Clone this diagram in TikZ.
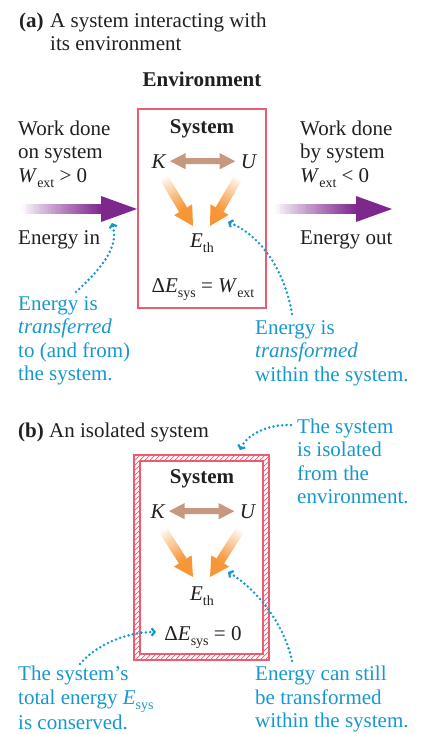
\documentclass[tikz,border=0pt]{standalone}
\usepackage{fontspec}
\setmainfont{Liberation Serif}
\usetikzlibrary{calc,arrows.meta}
\definecolor{boxred}{RGB}{235,92,112}
\definecolor{annblue}{RGB}{22,152,207}
\definecolor{arrpurple}{RGB}{126,40,142}
\definecolor{arrorange}{RGB}{247,150,55}
\definecolor{arrbrown}{RGB}{198,152,128}
\definecolor{txt}{RGB}{35,31,32}
\newcommand\sbs[1]{\raisebox{-5pt}{\fontsize{14}{14}\selectfont #1}}
\newcommand\gradarrow[6]{%
  \coordinate (ga-h) at ($(#2)!#6!(#1)$);
  \foreach \i in {0,...,29}{%
    \pgfmathsetmacro\pa{\i/30}%
    \pgfmathsetmacro\pb{min((\i+1.5)/30,1)}%
    \pgfmathtruncatemacro\pc{100*((\i+0.5)/30)^0.85}%
    \draw[line width=#4, draw=#3!\pc!white] ($(#1)!\pa!(ga-h)$) -- ($(#1)!\pb!(ga-h)$);
  }
  \fill[#3] (#2) -- ($(ga-h)!#5!90:(#2)$) -- ($(ga-h)!#5!-90:(#2)$) -- cycle;
}
\begin{document}
\begin{tikzpicture}[x=1pt,y=-1pt,
  every node/.style={inner sep=0pt, text=txt, font=\fontsize{21}{23.5}\selectfont},
  ml/.style={align=left, anchor=north west},
  blue/.style={text=annblue},
  dots/.style={draw=annblue, line width=2.8pt, dash pattern=on 0pt off 4.4pt, line cap=round,
    -{Straight Barb[length=3pt,width=7.5pt,line width=2.2pt]}},
  brownarr/.style={draw=arrbrown, line width=6pt,
    {Triangle[length=16pt,width=15pt]}-{Triangle[length=16pt,width=15pt]}},
  sysbox/.style={draw=boxred, line width=2.5pt},
  wall/.style={draw=boxred, line width=1.2pt}]
\useasboundingbox (0,0) rectangle (423,734);

% ---------------- (a) ----------------
\node[anchor=base west] (alab) at (19,27) {\textbf{(a)}};
\node[ml] (atitle) at (50,10.55) {\strut A system interacting with\\\strut its environment};
\node[anchor=base] (env) at (202,86) {\textbf{Environment}};

\node[sysbox, minimum width=128pt, minimum height=199pt] (boxa) at (202,208.5) {};
\node[anchor=base] (sysa) at (202,133) {\textbf{System}};
\node[anchor=base] (Ka) at (159,168) {\textit{K}};
\node[anchor=base] (Ua) at (249,168) {\textit{U}};
\draw[brownarr] ([xshift=3pt]Ka.east) -- ([xshift=-5pt]Ua.west);
\node[anchor=base] (Ea) at (202,247) {\textit{E}\sbs{th}};
\node[anchor=base] (dEa) at (203,292) {Δ\textit{E}\sbs{sys} = \textit{W}\sbs{ext}};

\coordinate (oa1s) at (164,178); \coordinate (oa1e) at (193,226);
\coordinate (oa2s) at (238,178); \coordinate (oa2e) at (210,226);
\gradarrow{oa1s}{oa1e}{arrorange}{9pt}{10.5pt}{19pt}
\gradarrow{oa2s}{oa2e}{arrorange}{9pt}{10.5pt}{19pt}

\coordinate (pls) at (22,209); \coordinate (ple) at (137,209);
\coordinate (prs) at (275,209); \coordinate (pre) at (392,209);
\gradarrow{pls}{ple}{arrpurple}{10pt}{13pt}{36pt}
\gradarrow{prs}{pre}{arrpurple}{10pt}{13pt}{36pt}

\node[ml] (wl) at (18,118.55) {\strut Work done\\\strut on system\\\strut\textit{W}\sbs{ext} > 0};
\node[ml] (wr) at (300,118.55) {\strut Work done\\\strut by system\\\strut\textit{W}\sbs{ext} < 0};
\node[anchor=base west] (ein) at (18,244) {Energy in};
\node[anchor=base west] (eout) at (300,244) {Energy out};

\node[ml, blue] (trf) at (18,293.55) {\strut Energy is\\\strut\textit{transferred}\\\strut to (and from)\\\strut the system.};
\node[ml, blue] (trm) at (255,317.55) {\strut Energy is\\\strut\textit{transformed}\\\strut within the system.};

\coordinate (d1s) at (76,292); \coordinate (d1e) at (112,223);
\draw[dots] (d1s) .. controls (104,266) and (119,246) .. (d1e);
\coordinate (d2s) at (292,314); \coordinate (d2e) at (228,222);
\draw[dots] (d2s) .. controls (285,272) and (262,236) .. (d2e);

% ---------------- (b) ----------------
\node[anchor=base west] (blab) at (18,437) {\textbf{(b)} An isolated system};

\begin{scope}[even odd rule]
  \clip (134,455) rectangle (269,660) (140,461) rectangle (263,654);
  \foreach \k in {0,...,80}{
    \draw[boxred, line width=0.7pt] (\k*5-100,665) -- (\k*5-100+215,450);
  }
\end{scope}
\node[wall, minimum width=135pt, minimum height=205pt] (boxbo) at (201.5,557.5) {};
\node[wall, minimum width=123pt, minimum height=193pt] (boxbi) at (201.5,557.5) {};

\node[anchor=base] (sysb) at (202,483) {\textbf{System}};
\node[anchor=base] (Kb) at (158,518) {\textit{K}};
\node[anchor=base] (Ub) at (248,518) {\textit{U}};
\draw[brownarr] ([xshift=3pt]Kb.east) -- ([xshift=-5pt]Ub.west);
\node[anchor=base] (Eb) at (202,600) {\textit{E}\sbs{th}};
\node[anchor=base] (dEb) at (203,640) {Δ\textit{E}\sbs{sys} = 0};

\coordinate (ob1s) at (163,530); \coordinate (ob1e) at (193,577);
\coordinate (ob2s) at (240,530); \coordinate (ob2e) at (210,577);
\gradarrow{ob1s}{ob1e}{arrorange}{9pt}{10.5pt}{19pt}
\gradarrow{ob2s}{ob2e}{arrorange}{9pt}{10.5pt}{19pt}

\node[ml, blue] (iso) at (297,416.55) {\strut The system\\\strut is isolated\\\strut from the\\\strut environment.};
\node[ml, blue] (cons) at (18,664.05) {\strut The system’s\\\strut total energy \textit{E}\sbs{sys}\\\strut is conserved.};
\node[ml, blue] (still) at (255,664.05) {\strut Energy can still\\\strut be transformed\\\strut within the system.};

\coordinate (d3s) at (291,425); \coordinate (d3e) at (240,450);
\draw[dots] (d3s) .. controls (266,424) and (246,436) .. (d3e);
\coordinate (d4s) at (80,664); \coordinate (d4e) at (156,632);
\draw[dots] (d4s) .. controls (96,645) and (126,632) .. (d4e);
\coordinate (d5s) at (292,661); \coordinate (d5e) at (228,572);
\draw[dots] (d5s) .. controls (285,626) and (258,590) .. (d5e);
\end{tikzpicture}
\end{document}
